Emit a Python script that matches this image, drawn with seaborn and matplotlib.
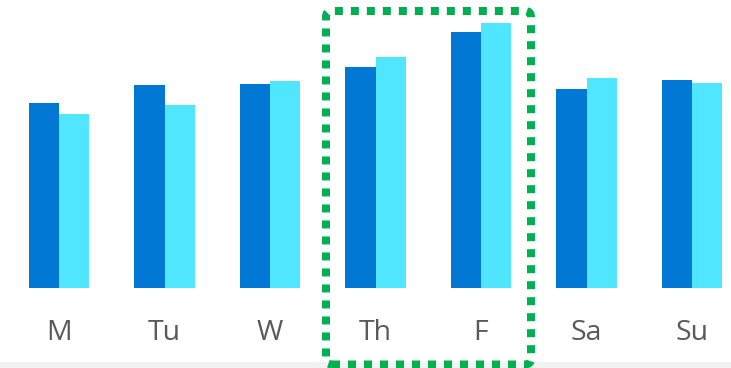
import matplotlib
matplotlib.use("Agg")
import matplotlib.pyplot as plt
from matplotlib.patches import FancyBboxPatch, Rectangle
import pandas as pd
import seaborn as sns

# Daily values for two weeks
days = ["M", "Tu", "W", "Th", "F", "Sa", "Su"]
week_1 = [185, 203, 204, 221, 256, 199, 208]
week_2 = [174, 183, 207, 231, 265, 210, 205]
series = ["Week 1", "Week 2"]
palette = ["#0078D4", "#50E6FF"]

df = pd.DataFrame({
    "day": days * 2,
    "value": week_1 + week_2,
    "series": [series[0]] * len(days) + [series[1]] * len(days),
})

sns.set_theme(style="white")
plt.rcParams["font.family"] = ["Open Sans", "DejaVu Sans"]

W, H = 731, 368
DPI = 100
fig = plt.figure(figsize=(W / DPI, H / DPI), dpi=DPI)
base_px = 80  # baseline height above figure bottom, in pixels
ax = fig.add_axes([0, base_px / H, 1, 1 - base_px / H])

sns.barplot(data=df, x="day", y="value", hue="series", order=days,
            hue_order=series, palette=palette, width=0.569, gap=0,
            saturation=1, linewidth=0, legend=False, ax=ax)

unit_px = 105.5
left_px = 59
ax.set_xlim(-left_px / unit_px, (W - left_px) / unit_px)
ax.set_ylim(0, H - base_px)
ax.set_xlabel("")
ax.set_ylabel("")
ax.set_yticks([])
ax.tick_params(axis="x", length=0, pad=22, labelsize=20.5, labelcolor="#5a5a5a")
for s in ax.spines.values():
    s.set_visible(False)
ax.patch.set_alpha(0)

# Light strip along the bottom edge
fig.patches.append(Rectangle((0, 0), 1, 6 / H, transform=fig.transFigure,
                             facecolor="#f2f2f2", edgecolor="none", zorder=0))

# Dotted highlight around Thursday and Friday (positions in inches)
bx0, bx1 = 326 / DPI, 531 / DPI
by0, by1 = (H - 364.5) / DPI, (H - 11) / DPI
box = FancyBboxPatch((bx0, by0), bx1 - bx0, by1 - by0,
                     boxstyle="round,pad=0,rounding_size=0.06",
                     transform=fig.dpi_scale_trans, facecolor="none",
                     edgecolor="#00B050", linewidth=5.76,
                     linestyle=(0, (1, 1)), clip_on=False, zorder=5)
box.set_capstyle("butt")
fig.patches.append(box)

fig.savefig("out.png", dpi=DPI)
